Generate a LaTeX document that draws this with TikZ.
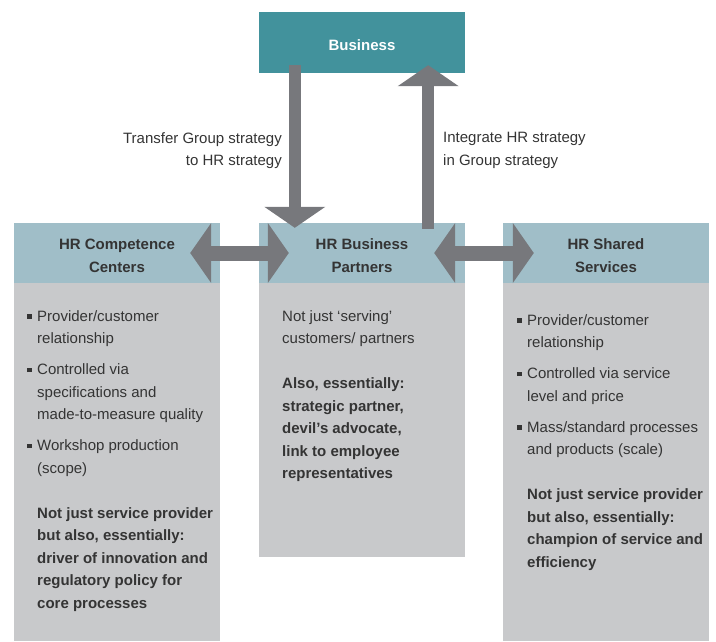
\documentclass[tikz,border=0pt]{standalone}
\usepackage{fontspec}
\setmainfont{Liberation Sans}
\usetikzlibrary{arrows.meta, positioning}
\definecolor{bizteal}{RGB}{66, 146, 156}
\definecolor{hdrblue}{RGB}{160, 190, 200}
\definecolor{bodygray}{RGB}{200, 201, 203}
\definecolor{arrowgray}{RGB}{119, 120, 124}
\definecolor{textdark}{RGB}{52, 52, 52}
\newcommand{\hritem}[1]{\par\noindent\hangindent=10pt\hangafter=1\makebox[10pt][l]{\raisebox{2.5pt}{\rule{4.5pt}{4.5pt}}}#1\par}
\newcommand{\hrnote}[1]{\par\vspace{14pt}\noindent\hangindent=10pt\hangafter=0\textbf{#1}\par}

\begin{document}
\begin{tikzpicture}[x=1pt, y=-1pt,
    every node/.style={font=\fontsize{15}{22.5}\selectfont, text=textdark},
    hdr/.style={fill=hdrblue, minimum width=206pt, minimum height=60pt, inner sep=0pt, align=center, font=\fontsize{15}{23}\selectfont\bfseries},
    bodybox/.style={fill=bodygray, minimum width=206pt, inner sep=0pt},
    bodytext/.style={inner sep=0pt, anchor=base west},
    bigarrow/.style={draw=arrowgray, line width=12pt, -{Triangle[length=21pt, width=60pt]}},
    dblarrow/.style={draw=arrowgray, line width=15pt, {Triangle[length=21pt, width=59pt]}-{Triangle[length=21pt, width=59pt]}}]
  \useasboundingbox (0,0) rectangle (716,641);

  % top box
  \node[fill=bizteal, minimum width=206pt, minimum height=61pt, inner sep=0pt, text height=15pt, text depth=0pt, text=white, font=\fontsize{15}{22.5}\selectfont\bfseries] (biz) at (362,42.5) {Business};

  % the three HR roles
  \node[hdr] (cc) at (117,253) {\rule{0pt}{17pt}HR Competence\\Centers};
  \node[hdr] (bp) at (362,253) {\rule{0pt}{17pt}HR Business\\Partners};
  \node[hdr] (ss) at (606,253) {\rule{0pt}{17pt}HR Shared\\Services};
  \node[bodybox, minimum height=358pt, below=0pt of cc] (ccbody) {};
  \node[bodybox, minimum height=274pt, below=0pt of bp] (bpbody) {};
  \node[bodybox, minimum height=358pt, below=0pt of ss] (ssbody) {};

  \node[bodytext] (cctext) at (27,321) {\begin{minipage}[t]{200pt}\setlength{\parskip}{8.5pt}\raggedright
    \hritem{Provider/customer\newline relationship}
    \hritem{Controlled via\newline specifications and\newline made-to-measure quality}
    \hritem{Workshop production\newline (scope)}
    \hrnote{Not just service provider\newline but also, essentially:\newline driver of innovation and\newline regulatory policy for\newline core processes}
  \end{minipage}};
  \node[bodytext] (bptext) at (282,321) {\begin{minipage}[t]{200pt}\setlength{\parskip}{8.5pt}\raggedright
    Not just ‘serving’\newline customers/ partners\par
    \vspace{14pt}\textbf{Also, essentially:\newline strategic partner,\newline devil’s advocate,\newline link to employee\newline representatives}
  \end{minipage}};
  \node[bodytext] (sstext) at (517,325) {\begin{minipage}[t]{200pt}\setlength{\parskip}{8.5pt}\raggedright
    \hritem{Provider/customer\newline relationship}
    \hritem{Controlled via service\newline level and price}
    \hritem{Mass/standard processes\newline and products (scale)}
    \hrnote{Not just service provider\newline but also, essentially:\newline champion of service and\newline efficiency}
  \end{minipage}};

  % strategy labels
  \node[anchor=east, align=right, inner sep=0pt] (downlbl) at (282,150.5) {Transfer Group strategy\\to HR strategy};
  \node[anchor=west, align=left, inner sep=0pt] (uplbl) at (443,150.5) {Integrate HR strategy\\in Group strategy};

  % arrows
  \draw[bigarrow] ([xshift=36pt, yshift=8pt]biz.south west) -- ([xshift=36pt, yshift=-5pt]bp.north west);
  \draw[bigarrow] ([xshift=-37pt, yshift=-6pt]bp.north east) -- ([xshift=-37pt, yshift=8pt]biz.south east);
  \draw[dblarrow] ([xshift=-30pt]cc.east) -- ([xshift=30pt]bp.west);
  \draw[dblarrow] ([xshift=-31pt]bp.east) -- ([xshift=31pt]ss.west);
\end{tikzpicture}
\end{document}
